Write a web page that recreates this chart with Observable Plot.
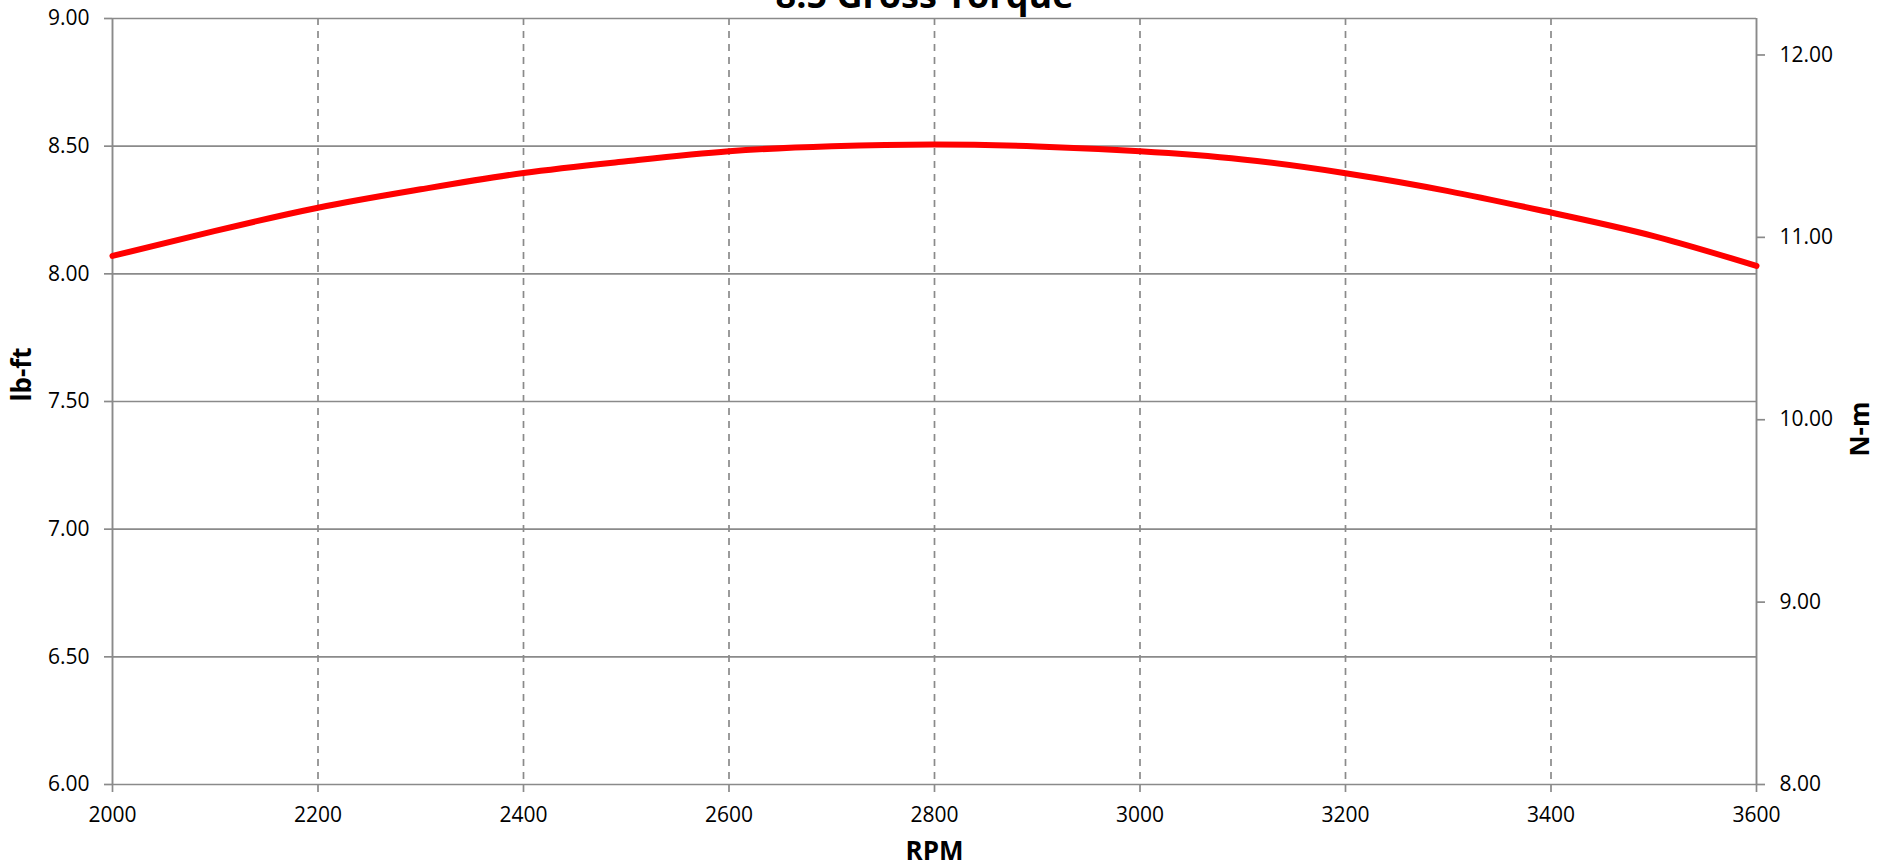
<!DOCTYPE html>
<html>
<head>
<meta charset="utf-8">
<script src="https://cdn.jsdelivr.net/npm/d3@7"></script>
<script src="https://cdn.jsdelivr.net/npm/@observablehq/plot@0.6"></script>
<style>
  html, body { margin: 0; padding: 0; background: white; }
  #chart svg { display: block; }
</style>
</head>
<body>
<div id="chart"></div>
<script>
// --- Data ---
const rpm = [2000, 2100, 2200, 2300, 2400, 2500, 2600, 2700, 2800, 2900, 3000, 3100, 3200, 3300, 3400, 3500, 3600];
const torqueLbFt = [8.07, 8.168, 8.259, 8.331, 8.395, 8.441, 8.48, 8.50, 8.507, 8.499, 8.48, 8.448, 8.394, 8.324, 8.24, 8.148, 8.031];
const xTicks = [2000, 2200, 2400, 2600, 2800, 3000, 3200, 3400, 3600];
const yTicksLeft = [6.0, 6.5, 7.0, 7.5, 8.0, 8.5, 9.0];
const yTicksRight = [8, 9, 10, 11, 12];
const leftDomain = [6, 9];
const rightDomain = [8, 12.2];
const titleText = "8.5 Gross Torque";
const xLabel = "RPM";
const yLabelLeft = "lb-ft";
const yLabelRight = "N-m";

const data = rpm.map((r, i) => ({rpm: r, torque: torqueLbFt[i]}));
// map right-axis (N-m) values into left-axis space
const toLeft = v => leftDomain[0] + (v - rightDomain[0]) * (leftDomain[1] - leftDomain[0]) / (rightDomain[1] - rightDomain[0]);
const fromLeft = v => rightDomain[0] + (v - leftDomain[0]) * (rightDomain[1] - rightDomain[0]) / (leftDomain[1] - leftDomain[0]);

const W = 1888, H = 865;
const mLeft = 112, mRight = 132, mTop = 18, mBottom = 81;
const gridColor = "#8a8a8a";
const font = "'Open Sans', sans-serif";

const chart = Plot.plot({
  width: W,
  height: H,
  marginLeft: mLeft,
  marginRight: mRight,
  marginTop: mTop,
  marginBottom: mBottom,
  style: {fontFamily: font, fontSize: "21px", color: "black", background: "white", overflow: "visible"},
  x: {domain: [xTicks[0], xTicks[xTicks.length - 1]]},
  y: {domain: leftDomain},
  marks: [
    // horizontal gridlines (solid)
    Plot.ruleY(yTicksLeft, {stroke: gridColor, strokeWidth: 1.7}),
    // vertical gridlines (dashed)
    Plot.ruleX(xTicks.slice(1, -1), {stroke: gridColor, strokeWidth: 1.7, strokeDasharray: "7,6"}),
    // left & right plot edges
    Plot.ruleX([xTicks[0], xTicks[xTicks.length - 1]], {stroke: gridColor, strokeWidth: 1.9}),
    // the curve
    Plot.line(data, {x: "rpm", y: "torque", stroke: "#ff0000", strokeWidth: 6, curve: "natural"}),
    // axes
    Plot.axisX({ticks: xTicks, tickFormat: d => String(d), tickSize: 8, tickPadding: 15, stroke: gridColor, strokeWidth: 1.7, fontSize: 21, label: null}),
    Plot.axisY({anchor: "left", ticks: yTicksLeft, tickFormat: d => d.toFixed(2), tickSize: 8, tickPadding: 15, stroke: gridColor, strokeWidth: 1.7, fontSize: 21, label: null}),
    Plot.axisY({anchor: "right", ticks: yTicksRight.map(toLeft), tickFormat: d => fromLeft(d).toFixed(2), tickSize: 8, tickPadding: 15, stroke: gridColor, strokeWidth: 1.7, fontSize: 21, label: null}),
    // axis titles
    Plot.text([xLabel], {frameAnchor: "bottom", dy: 67, lineAnchor: "middle", text: d => d, fontSize: 26, fontWeight: "bold"}),
    Plot.text([yLabelLeft], {frameAnchor: "left", dx: -90, rotate: -90, text: d => d, fontSize: 26, fontWeight: "bold"}),
    Plot.text([yLabelRight], {frameAnchor: "right", dx: 104, rotate: -90, text: d => d, fontSize: 26, fontWeight: "bold"}),
    // chart title (partly cut off at the top, as in the reference)
    Plot.text([titleText], {frameAnchor: "top", dx: -10, dy: -11, lineAnchor: "bottom", text: d => d, fontSize: 36, fontWeight: "bold"})
  ]
});
document.getElementById("chart").appendChild(chart);
</script>
</body>
</html>
